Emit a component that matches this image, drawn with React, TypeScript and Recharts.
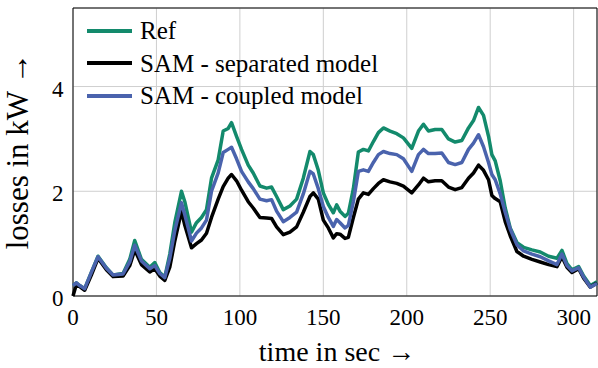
import { LineChart, Line, XAxis, YAxis, CartesianGrid, ReferenceArea, Label } from "recharts";

const GREEN = "#138a6c";
const BLACK = "#000000";
const BLUE = "#4a63ad";
const FONT = '"Liberation Serif", "Times New Roman", serif';

// time in sec
const TIME = [
  0, 2, 4, 7, 11, 15, 20, 24, 30, 34, 37, 41, 46, 49, 52, 55, 58, 61, 65, 67,
  71, 74, 77, 80, 83, 87, 90, 93, 95, 98, 101, 105, 108, 112, 116, 119, 122, 126, 130, 134,
  138, 142, 144, 147, 150, 153, 156, 158, 160, 163, 165, 168, 171, 174, 177, 180, 183, 186, 190, 194,
  198, 203, 207, 210, 213, 217, 221, 225, 229, 233, 237, 240, 243, 246, 249, 251, 253, 256, 259, 262,
  266, 270, 275, 280, 285, 290, 293, 296, 299, 303, 306, 310, 314,
];

// losses in kW
const REF = [
  0.2, 0.25, 0.2, 0.14, 0.45, 0.76, 0.54, 0.4, 0.43, 0.7, 1.06, 0.7, 0.55, 0.64, 0.45, 0.36, 0.8, 1.4, 2.0, 1.8,
  1.22, 1.4, 1.5, 1.65, 2.25, 2.6, 3.15, 3.2, 3.31, 3.05, 2.8, 2.5, 2.35, 2.1, 2.06, 2.08, 1.9, 1.65, 1.72, 1.85,
  2.25, 2.76, 2.7, 2.4, 1.97, 1.75, 1.59, 1.74, 1.62, 1.52, 1.58, 2.05, 2.75, 2.8, 2.77, 2.95, 3.12, 3.21, 3.15, 3.1,
  3.02, 2.82, 3.15, 3.28, 3.15, 3.18, 3.18, 3.0, 2.94, 2.97, 3.21, 3.35, 3.6, 3.45, 3.05, 2.7, 2.58, 2.2, 1.68, 1.3,
  1.02, 0.93, 0.88, 0.84, 0.76, 0.72, 0.87, 0.62, 0.5, 0.56, 0.38, 0.2, 0.27,
];

const SAM_SEP = [
  0.0, 0.22, 0.18, 0.11, 0.4, 0.72, 0.5, 0.37, 0.38, 0.58, 0.88, 0.6, 0.46, 0.52, 0.38, 0.3, 0.55, 1.05, 1.62, 1.35,
  0.92, 1.0, 1.07, 1.2, 1.5, 1.85, 2.09, 2.25, 2.32, 2.2, 2.02, 1.8, 1.68, 1.5, 1.49, 1.48, 1.32, 1.17, 1.22, 1.32,
  1.6, 1.9, 1.97, 1.85, 1.45, 1.3, 1.11, 1.19, 1.18, 1.1, 1.12, 1.5, 1.85, 1.97, 1.94, 2.05, 2.15, 2.22, 2.18, 2.15,
  2.1, 1.97, 2.12, 2.25, 2.18, 2.2, 2.2, 2.08, 2.03, 2.07, 2.25, 2.35, 2.5, 2.4, 2.22, 1.92, 1.86, 1.8, 1.42, 1.15,
  0.85, 0.76, 0.7, 0.65, 0.6, 0.56, 0.75, 0.55, 0.45, 0.52, 0.34, 0.17, 0.25,
];

const SAM_COUPLED = [
  0.2, 0.25, 0.2, 0.14, 0.45, 0.75, 0.53, 0.4, 0.42, 0.65, 0.97, 0.67, 0.52, 0.58, 0.43, 0.35, 0.72, 1.25, 1.78, 1.55,
  1.05, 1.2, 1.3, 1.45, 2.0, 2.35, 2.74, 2.8, 2.84, 2.62, 2.38, 2.18, 2.05, 1.85, 1.82, 1.84, 1.62, 1.42, 1.5, 1.6,
  1.95, 2.38, 2.33, 2.05, 1.71, 1.5, 1.33, 1.46, 1.4, 1.3, 1.35, 1.8, 2.38, 2.41, 2.38, 2.55, 2.7, 2.76, 2.72, 2.7,
  2.62, 2.38, 2.7, 2.8, 2.72, 2.72, 2.73, 2.55, 2.51, 2.55, 2.8, 2.92, 3.08, 2.85, 2.55, 2.32, 2.22, 1.95, 1.6, 1.28,
  0.98, 0.86, 0.8, 0.75, 0.67, 0.6, 0.8, 0.58, 0.48, 0.54, 0.36, 0.17, 0.24,
];

const X_TICKS = [0, 50, 100, 150, 200, 250, 300];
const Y_TICKS = [0, 2, 4];

const SERIES = [
  { key: "ref", name: "Ref", color: GREEN },
  { key: "sep", name: "SAM - separated model", color: BLACK },
  { key: "coupled", name: "SAM - coupled model", color: BLUE },
];

const data = TIME.map((t, i) => ({
  t,
  ref: REF[i],
  sep: SAM_SEP[i],
  coupled: SAM_COUPLED[i],
}));

const XTick = ({ x, y, payload }: any) => (
  <text x={x} y={y + 27} textAnchor="middle" fontFamily={FONT} fontSize={23} fill="#000">
    {payload.value}
  </text>
);

const YTick = ({ y, payload }: any) => (
  <text x={63.5} y={y + 10} textAnchor="end" fontFamily={FONT} fontSize={23} fill="#000">
    {payload.value}
  </text>
);

export default function App() {
  return (
    <div style={{ position: "absolute", left: 0, top: 0, width: 598, height: 368, background: "#fff" }}>
      <LineChart width={598} height={368} data={data} margin={{ top: 8, right: 1, bottom: 0, left: 0 }}>
        <CartesianGrid stroke="#cfcfcf" strokeWidth={1} />
        <XAxis
          dataKey="t"
          type="number"
          domain={[0, 314]}
          ticks={X_TICKS}
          height={72}
          axisLine={false}
          tickLine={false}
          tickSize={0}
          tick={XTick}
        >
          <Label
            content={() => (
              <text x={337} y={361} textAnchor="middle" fontFamily={FONT} fontSize={28} fill="#000">
                time in sec →
              </text>
            )}
          />
        </XAxis>
        <YAxis
          type="number"
          domain={[0, 5.5]}
          ticks={Y_TICKS}
          width={73}
          axisLine={false}
          tickLine={false}
          tickSize={0}
          tick={YTick}
        >
          <Label
            content={() => (
              <text
                x={28}
                y={151}
                transform="rotate(-90 28 151)"
                textAnchor="middle"
                fontFamily={FONT}
                fontSize={31}
                fill="#000"
              >
                losses in kW →
              </text>
            )}
          />
        </YAxis>
        <ReferenceArea x1={0} x2={314} y1={0} y2={5.5} fill="none" stroke="#000" strokeWidth={1} />
        {SERIES.map((s) => (
          <Line
            key={s.key}
            dataKey={s.key}
            name={s.name}
            type="linear"
            stroke={s.color}
            strokeWidth={3.5}
            strokeLinejoin="round"
            dot={false}
            isAnimationActive={false}
          />
        ))}
      </LineChart>
      <div style={{ position: "absolute", left: 87, top: 14.5, fontFamily: FONT, fontSize: 25, color: "#000" }}>
        {SERIES.map((s) => (
          <div key={s.key} style={{ display: "flex", alignItems: "center", height: 32.5, whiteSpace: "nowrap" }}>
            <div style={{ width: 45, height: 4, background: s.color, marginRight: 8 }} />
            <span style={{ lineHeight: 1 }}>{s.name}</span>
          </div>
        ))}
      </div>
    </div>
  );
}
